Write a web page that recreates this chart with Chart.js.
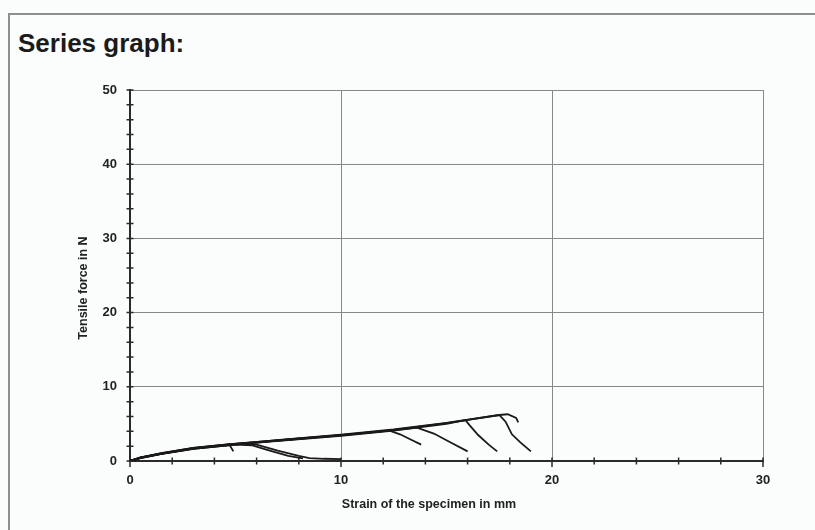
<!DOCTYPE html>
<html>
<head>
<meta charset="utf-8">
<script src="https://cdn.jsdelivr.net/npm/chart.js@4.4.1/dist/chart.umd.min.js"></script>
<style>
  html, body { margin: 0; padding: 0; background: #fbfcfc; }
  #wrap { position: relative; width: 815px; height: 530px; overflow: hidden; }
  #frame { position: absolute; left: 8px; top: 13px; width: 830px; height: 540px;
           border-top: 2px solid #8e8e8e; border-left: 2px solid #8e8e8e; }
  #title { position: absolute; left: 18px; top: 30px; color: #1b1b1b;
           font: bold 26px "Liberation Sans", Arial, sans-serif; line-height: 26px; }
  canvas { position: absolute; left: 0; top: 0; }
</style>
</head>
<body>
<div id="wrap">
  <div id="frame"></div>
  <div id="title">Series graph:</div>
  <canvas id="seriesChart" width="815" height="530"></canvas>
</div>
<script>
  // strain in mm / tensile force in N, one pair of arrays per specimen
  const strain1 = [0, 0.5, 1.5, 3, 5, 6, 7, 8, 8.5, 9.2, 10];
  const force1 = [0, 0.45, 1.0, 1.7, 2.3, 2.2, 1.4, 0.7, 0.4, 0.3, 0.25];
  const strain2 = [0, 0.5, 1.5, 3, 5, 5.8, 6.5, 7.5, 8.2];
  const force2 = [0, 0.4, 0.95, 1.65, 2.2, 2.1, 1.5, 0.7, 0.35];
  const strain3 = [0, 0.5, 1.5, 3, 4.7, 4.9];
  const force3 = [0, 0.45, 1.05, 1.75, 2.25, 1.3];
  const strain4 = [0, 0.5, 1.5, 3, 5, 7.5, 10, 12.3, 12.8, 13.3, 13.8];
  const force4 = [0, 0.5, 1.05, 1.75, 2.35, 2.9, 3.5, 4.1, 3.6, 2.9, 2.2];
  const strain5 = [0, 0.5, 1.5, 3, 5, 7.5, 10, 12.5, 13.6, 14.4, 15.2, 16];
  const force5 = [0, 0.45, 1.0, 1.7, 2.3, 2.85, 3.45, 4.15, 4.5, 3.7, 2.5, 1.3];
  const strain6 = [0, 0.5, 1.5, 3, 5, 7.5, 10, 12.5, 15, 15.9, 16.1, 16.5, 17, 17.4];
  const force6 = [0, 0.45, 1.0, 1.7, 2.25, 2.8, 3.4, 4.1, 5.0, 5.5, 4.8, 3.5, 2.2, 1.3];
  const strain7 = [0, 0.5, 1.5, 3, 5, 7.5, 10, 12.5, 15, 17.5, 17.8, 18.1, 18.5, 19];
  const force7 = [0, 0.4, 0.95, 1.65, 2.2, 2.9, 3.5, 4.2, 5.1, 6.2, 5.3, 3.6, 2.5, 1.3];
  const strain8 = [0, 0.5, 1.5, 3, 5, 7.5, 10, 12.5, 15, 17.5, 17.9, 18.3, 18.4];
  const force8 = [0, 0.45, 1.0, 1.7, 2.3, 2.95, 3.55, 4.25, 5.15, 6.2, 6.3, 5.8, 5.2];

  const strainTicks = [0, 10, 20, 30];
  const forceTicks = [0, 10, 20, 30, 40, 50];

  const specimens = [
    [strain1, force1], [strain2, force2], [strain3, force3], [strain4, force4],
    [strain5, force5], [strain6, force6], [strain7, force7], [strain8, force8],
  ];

  const fontFamily = "'Liberation Sans', Arial, sans-serif";
  const labelFont = { family: fontFamily, size: 13, weight: "bold" };

  // small tick marks crossing both axes every 2 units, plus the axis captions
  const axisExtras = {
    id: "axisExtras",
    beforeDatasetsDraw(chart) {
      const ctx = chart.ctx;
      const x = chart.scales.x;
      const y = chart.scales.y;
      const base = y.getPixelForValue(0);
      const left = x.getPixelForValue(0);
      ctx.save();
      ctx.strokeStyle = "#2a2a2a";
      ctx.lineWidth = 1.5;
      ctx.beginPath();
      x.ticks.forEach((t) => {
        const px = x.getPixelForValue(t.value);
        const len = strainTicks.includes(t.value) ? 6 : 3.5;
        ctx.moveTo(px, base - 3.5);
        ctx.lineTo(px, base + len);
      });
      y.ticks.forEach((t) => {
        const py = y.getPixelForValue(t.value);
        ctx.moveTo(left - 3.5, py);
        ctx.lineTo(left + 3.5, py);
      });
      ctx.stroke();
      ctx.restore();
    },
    afterDraw(chart) {
      const ctx = chart.ctx;
      ctx.save();
      ctx.fillStyle = "#222";
      ctx.font = "bold 12.5px " + fontFamily;
      ctx.textAlign = "center";
      ctx.textBaseline = "middle";
      ctx.fillText("Strain of the specimen in mm", 429, 505);
      ctx.translate(84, 288);
      ctx.rotate(-Math.PI / 2);
      ctx.fillText("Tensile force in N", 0, 0);
      ctx.restore();
    },
  };

  const chart = new Chart(document.getElementById("seriesChart"), {
    type: "scatter",
    data: {
      datasets: specimens.map(([xs, ys]) => ({
        data: xs.map((v, i) => ({ x: v, y: ys[i] })),
        showLine: true,
        borderColor: "#1a1a1a",
        borderWidth: 1.8,
        pointRadius: 0,
        tension: 0,
      })),
    },
    options: {
      responsive: false,
      animation: false,
      layout: { padding: { left: 76, right: 52, top: 90, bottom: 10 } },
      plugins: { legend: { display: false }, tooltip: { enabled: false } },
      scales: {
        x: {
          type: "linear",
          min: 0,
          max: 30,
          afterFit: (s) => {
            s.height = 59;
            s.paddingLeft = 0;
            s.paddingRight = 0;
          },
          ticks: {
            stepSize: 2,
            autoSkip: false,
            maxRotation: 0,
            padding: 12,
            color: "#222",
            font: labelFont,
            callback: (v) => (strainTicks.includes(v) ? v : ""),
          },
          grid: {
            drawTicks: false,
            lineWidth: 1,
            color: (c) =>
              c.tick && c.tick.value !== 0 && strainTicks.includes(c.tick.value) ? "#888" : "transparent",
          },
          border: { color: "#2a2a2a", width: 2 },
        },
        y: {
          type: "linear",
          min: 0,
          max: 50,
          afterFit: (s) => {
            s.width = 54;
            s.paddingTop = 0;
            s.paddingBottom = 0;
          },
          ticks: {
            stepSize: 2,
            autoSkip: false,
            padding: 13,
            color: "#222",
            font: labelFont,
            callback: (v) => (forceTicks.includes(v) ? v : ""),
          },
          grid: {
            drawTicks: false,
            lineWidth: 1,
            color: (c) =>
              c.tick && c.tick.value !== 0 && forceTicks.includes(c.tick.value) ? "#888" : "transparent",
          },
          border: { color: "#2a2a2a", width: 2 },
        },
      },
    },
    plugins: [axisExtras],
  });
</script>
</body>
</html>
